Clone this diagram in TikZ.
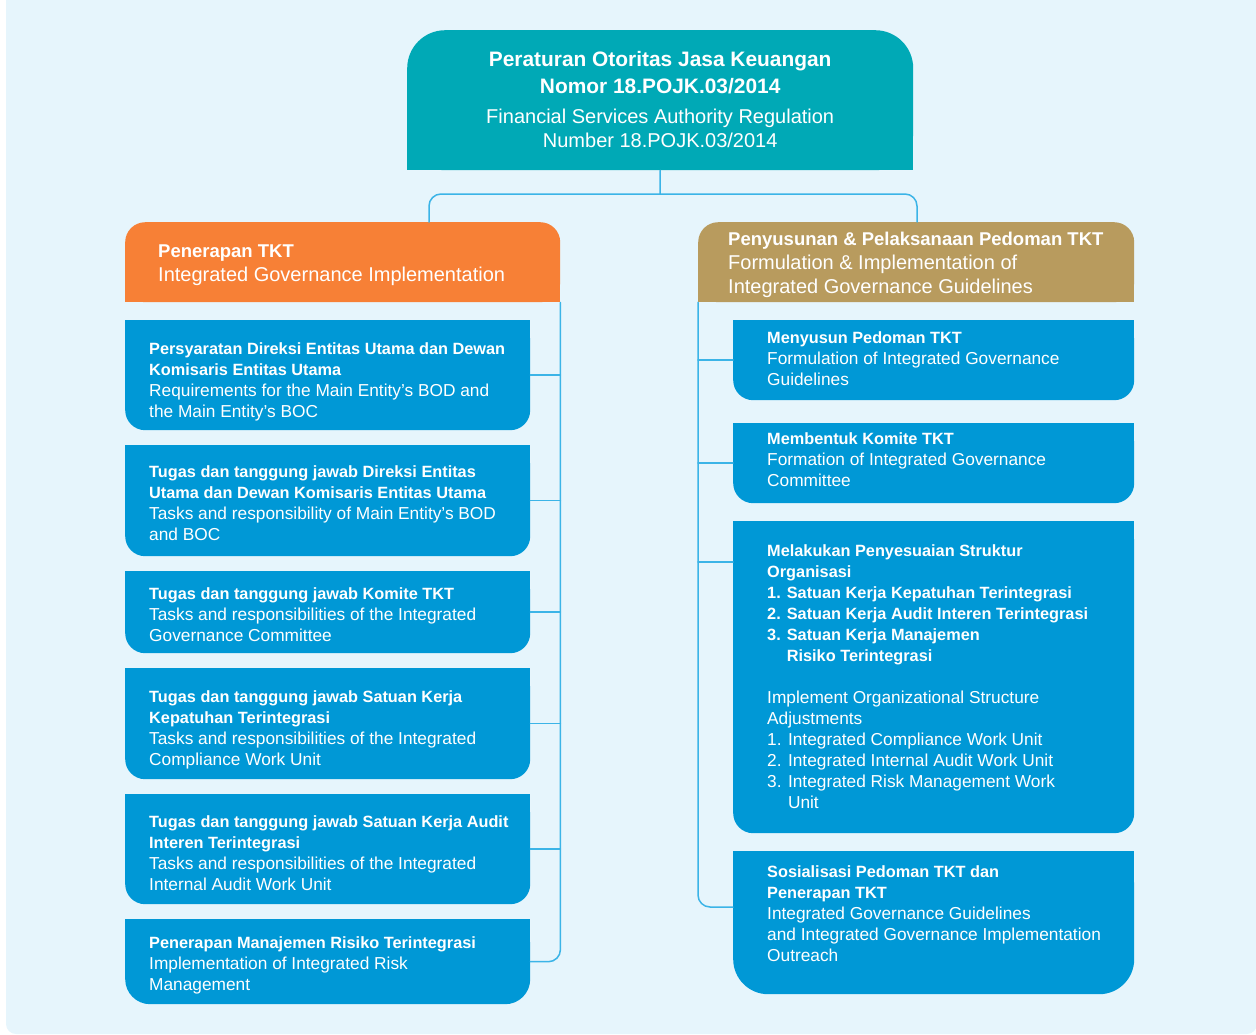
\documentclass[tikz,border=0pt]{standalone}
\usepackage{fontspec}
\setmainfont{Liberation Sans}
\usepackage{tikz}
\usetikzlibrary{positioning, calc, backgrounds}
\definecolor{PageBlue}{HTML}{E6F5FC}
\definecolor{TopTeal}{HTML}{00A9B6}
\definecolor{HeadOrange}{HTML}{F78036}
\definecolor{HeadTan}{HTML}{B89B5E}
\definecolor{ItemBlue}{HTML}{0098D6}
\definecolor{LinkBlue}{HTML}{3BB4E7}
\newcommand{\btop}[1]{{\fontsize{20.9}{27}\selectfont\bfseries #1}}
\newcommand{\bhead}[1]{{\fontsize{18.5}{24}\selectfont\bfseries #1}}
\newcommand{\bitem}[1]{{\fontsize{16.3}{21}\selectfont\bfseries #1}}
\tikzset{
	itembox/.style={fill=ItemBlue, inner sep=0pt, anchor=north west},
	itemtext/.style={text=white, align=left, inner sep=0pt, font=\fontsize{17.3}{21}\selectfont},
	headtext/.style={text=white, align=left, inner sep=0pt, font=\fontsize{20}{24}\selectfont},
	link/.style={draw=LinkBlue, line width=1.5pt}
}
\def\textsep{24}
% blue box: square top, rounded bottom; #7 moves the text down
\newcommand{\ItemBox}[8][20]{
	\def\lname{#2}
	\node[itembox, minimum width=#5pt, minimum height=#6pt, rounded corners=#1pt] (\lname) at (#3,#4) {};
	\begin{scope}[on background layer]
		\fill[ItemBlue] (\lname.north west) rectangle (\lname.east);
	\end{scope}
	\node[itemtext, right=\textsep pt of \lname.west, yshift=-#7pt] (\lname-txt) {#8};
}

\begin{document}
\begin{tikzpicture}[x=1pt, y=-1pt, line cap=round]

	\useasboundingbox (0,0) rectangle (1256,1034);
	\begin{scope}[on background layer]
		\fill[PageBlue, rounded corners=10pt] (6,-20) rectangle (1257,1034);
	\end{scope}

	% regulation
	\node[fill=TopTeal, inner sep=0pt, anchor=north west, minimum width=506pt, minimum height=140pt, rounded corners=38pt] (reg) at (407,30) {};
	\begin{scope}[on background layer]
		\fill[TopTeal] (reg.west) rectangle (reg.south east);
	\end{scope}
	\node[headtext, align=center, above=0pt of reg.center, anchor=center, yshift=0.5pt] (reg-txt)
		{\btop{Peraturan Otoritas Jasa Keuangan}\\[3pt]
		 \btop{Nomor 18.POJK.03/2014}\\[6pt]
		 Financial Services Authority Regulation\\
		 Number 18.POJK.03/2014};

	% two headers
	\node[fill=HeadOrange, inner sep=0pt, anchor=north west, minimum width=435pt, minimum height=80pt, rounded corners=20pt] (pen) at (125,222) {};
	\node[fill=HeadTan, inner sep=0pt, anchor=north west, minimum width=436pt, minimum height=80pt, rounded corners=20pt] (pel) at (698,222) {};
	\begin{scope}[on background layer]
		\fill[HeadOrange] (pen.west) rectangle (pen.south east);
		\fill[HeadTan] (pel.west) rectangle (pel.south east);
	\end{scope}
	\node[headtext, right=33pt of pen.west, yshift=-3pt] (pen-txt)
		{\bhead{Penerapan TKT}\\
		 Integrated Governance Implementation};
	\node[headtext, right=30pt of pel.west, yshift=-3pt] (pel-txt)
		{\bhead{Penyusunan \& Pelaksanaan Pedoman TKT}\\
		 Formulation \& Implementation of\\
		 Integrated Governance Guidelines};

	% left column
	\ItemBox{l1}{125}{320}{405}{110}{7}{\bitem{Persyaratan Direksi Entitas Utama dan Dewan}\\
		\bitem{Komisaris Entitas Utama}\\
		Requirements for the Main Entity’s BOD and\\
		the Main Entity’s BOC}
	\ItemBox{l2}{125}{445}{405}{111}{2}{\bitem{Tugas dan tanggung jawab Direksi Entitas}\\
		\bitem{Utama dan Dewan Komisaris Entitas Utama}\\
		Tasks and responsibility of Main Entity’s BOD\\
		and BOC}
	\ItemBox{l3}{125}{571}{405}{82}{2}{\bitem{Tugas dan tanggung jawab Komite TKT}\\
		Tasks and responsibilities of the Integrated\\
		Governance Committee}
	\ItemBox{l4}{125}{668}{405}{111}{6}{\bitem{Tugas dan tanggung jawab Satuan Kerja}\\
		\bitem{Kepatuhan Terintegrasi}\\
		Tasks and responsibilities of the Integrated\\
		Compliance Work Unit}
	\ItemBox{l5}{125}{794}{405}{110}{4}{\bitem{Tugas dan tanggung jawab Satuan Kerja Audit}\\
		\bitem{Interen Terintegrasi}\\
		Tasks and responsibilities of the Integrated\\
		Internal Audit Work Unit}
	\ItemBox[25]{l6}{125}{919}{405}{85}{4}{\bitem{Penerapan Manajemen Risiko Terintegrasi}\\
		Implementation of Integrated Risk\\
		Management}

	% right column
	\def\textsep{34}
	\ItemBox{r1}{733}{320}{401}{80}{-2}{\bitem{Menyusun Pedoman TKT}\\
		Formulation of Integrated Governance\\
		Guidelines}
	\ItemBox{r2}{733}{423}{401}{80}{-4}{\bitem{Membentuk Komite TKT}\\
		Formation of Integrated Governance\\
		Committee}
	\ItemBox{r3}{733}{521}{401}{312}{-1}{\bitem{Melakukan Penyesuaian Struktur}\\
		\bitem{Organisasi}\\
		\bitem{1. Satuan Kerja Kepatuhan Terintegrasi}\\
		\bitem{2. Satuan Kerja Audit Interen Terintegrasi}\\
		\bitem{3. Satuan Kerja Manajemen}\\
		\bitem{\hphantom{3. }Risiko Terintegrasi}\\[21pt]
		Implement Organizational Structure\\
		Adjustments\\
		1. Integrated Compliance Work Unit\\
		2. Integrated Internal Audit Work Unit\\
		3. Integrated Risk Management Work\\
		\hphantom{3. }Unit}
	\ItemBox[35]{r4}{733}{851}{401}{143}{-9}{\bitem{Sosialisasi Pedoman TKT dan}\\
		\bitem{Penerapan TKT}\\
		Integrated Governance Guidelines\\
		and Integrated Governance Implementation\\
		Outreach}

	% connectors
	\coordinate (split) at (660,194);
	\draw[link] (reg.south) -- (split);
	\draw[link, rounded corners=12pt] ($(pen.north west)+(304,0)$) |- (split) -| ($(pel.north west)+(219,0)$);

	\draw[link, rounded corners=12pt] (pen.south east) |- (l6.east);
	\foreach \b in {l1,l2,l3,l4,l5}
		\draw[link] (\b.east) -- (\b.east -| pen.east);

	\draw[link, rounded corners=12pt] (pel.south west) |- ($(r4.north west)+(0,56)$);
	\foreach \b in {r1,r2}
		\draw[link] (\b.west) -- (\b.west -| pel.west);
	\draw[link] ($(r3.north west)+(0,41)$) -- +(-35,0);

\end{tikzpicture}
\end{document}
